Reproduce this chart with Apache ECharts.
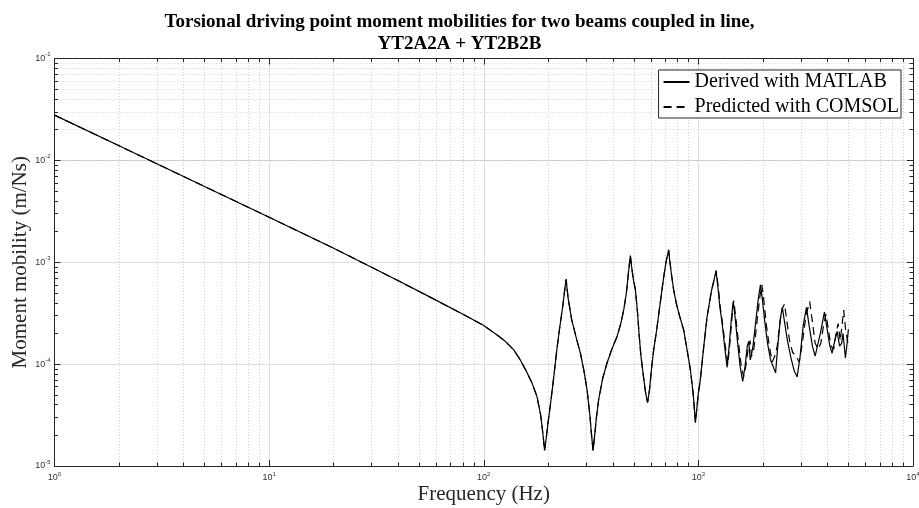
<!DOCTYPE html>
<html>
<head>
<meta charset="utf-8">
<script src="https://cdn.jsdelivr.net/npm/echarts@6/dist/echarts.min.js"></script>
<style>html,body{margin:0;padding:0;background:#fff;}#chart{width:919px;height:508px;}</style>
</head>
<body>
<div id="chart"></div>
<script>
// ---- Data ----
// Common part (both curves coincide up to ~1 kHz)
const freqShared = [1, 2, 5, 10, 20, 30, 40, 56, 80, 100, 115, 125, 138, 148, 158, 168, 177, 184, 189, 192, 195, 199, 204, 212, 219, 226, 233, 238, 242, 247, 257, 270, 282, 293, 303, 312, 318, 323, 328, 335, 343, 358, 375, 395, 418, 435, 449, 462, 472, 482, 490, 499, 509, 520, 530, 540, 555, 568, 580, 592, 605, 619, 640, 665, 685, 705, 727, 737, 750, 767, 790, 820, 854, 885, 918, 945, 969, 985, 1000, 1021];
const mobShared = [0.0278, 0.0139, 0.00555, 0.00277, 0.00137, 8.94e-4, 6.57e-4, 4.57e-4, 3.09e-4, 2.39e-4, 1.94e-4, 1.7e-4, 1.38e-4, 1.1e-4, 8.5e-5, 6.5e-5, 4.8e-5, 3.2e-5, 2.0e-5, 1.42e-5, 1.8e-5, 2.6e-5, 3.84e-5, 7.5e-5, 1.38e-4, 2.3e-4, 3.6e-4, 5.2e-4, 6.8e-4, 4.5e-4, 2.72e-4, 1.8e-4, 1.28e-4, 8.6e-5, 5.6e-5, 3.2e-5, 2.0e-5, 1.42e-5, 1.9e-5, 3.0e-5, 4.47e-5, 7.2e-5, 1.02e-4, 1.4e-4, 1.87e-4, 2.5e-4, 3.4e-4, 5.0e-4, 7.8e-4, 1.16e-3, 8.6e-4, 6.6e-4, 5.35e-4, 3.3e-4, 1.9e-4, 1.2e-4, 7.5e-5, 5.2e-5, 4.2e-5, 5.6e-5, 9.0e-5, 1.38e-4, 2.2e-4, 4.07e-4, 6.5e-4, 9.8e-4, 1.32e-3, 1.0e-3, 7.5e-4, 5.35e-4, 3.9e-4, 2.9e-4, 2.17e-4, 1.4e-4, 8.8e-5, 5.2e-5, 2.68e-5, 3.8e-5, 5.2e-5, 7.0e-5];

// Derived with MATLAB, above 1 kHz
const freqMatlabHi = [1060, 1098, 1150, 1209, 1235, 1260, 1290, 1325, 1361, 1395, 1425, 1452, 1480, 1520, 1565, 1609, 1650, 1690, 1716, 1745, 1770, 1800, 1850, 1900, 1946, 1980, 2040, 2100, 2170, 2230, 2290, 2350, 2410, 2460, 2520, 2600, 2700, 2800, 2885, 2980, 3080, 3188, 3280, 3400, 3500, 3575, 3700, 3868, 3980, 4100, 4198, 4320, 4430, 4550, 4650, 4720, 4842, 4930, 5000];
const mobMatlabHi = [1.5e-4, 2.93e-4, 5.2e-4, 8.2e-4, 5.5e-4, 3.6e-4, 2.52e-4, 1.5e-4, 9.3e-5, 1.6e-4, 2.8e-4, 4.1e-4, 3.0e-4, 1.7e-4, 9.5e-5, 6.75e-5, 9.5e-5, 1.5e-4, 1.67e-4, 1.1e-4, 1.25e-4, 1.55e-4, 2.6e-4, 4.3e-4, 6.0e-4, 4.6e-4, 2.6e-4, 1.6e-4, 1.1e-4, 9.5e-5, 8.2e-5, 1.6e-4, 2.8e-4, 3.6e-4, 2.6e-4, 1.7e-4, 1.15e-4, 8.5e-5, 7.5e-5, 1.2e-4, 2.4e-4, 3.6e-4, 2.4e-4, 1.5e-4, 1.2e-4, 1.15e-4, 2.0e-4, 3.25e-4, 2.2e-4, 1.5e-4, 1.28e-4, 1.7e-4, 2.1e-4, 1.5e-4, 1.6e-4, 2.0e-4, 1.15e-4, 1.6e-4, 2.2e-4];

// Predicted with COMSOL, above 1 kHz
const freqComsolHi = [1060, 1098, 1150, 1212, 1240, 1265, 1300, 1335, 1372, 1405, 1435, 1462, 1490, 1535, 1580, 1625, 1670, 1710, 1740, 1770, 1800, 1835, 1890, 1935, 1975, 2010, 2070, 2140, 2210, 2270, 2330, 2400, 2460, 2520, 2580, 2660, 2750, 2850, 2950, 3050, 3170, 3300, 3400, 3500, 3620, 3720, 3830, 3930, 4030, 4150, 4270, 4380, 4480, 4580, 4660, 4756, 4850, 5000];
const mobComsolHi = [1.5e-4, 2.9e-4, 5.2e-4, 8.3e-4, 5.5e-4, 3.6e-4, 2.4e-4, 1.5e-4, 1.0e-4, 1.7e-4, 2.9e-4, 4.2e-4, 3.0e-4, 1.7e-4, 1.0e-4, 7.5e-5, 1.0e-4, 1.5e-4, 1.7e-4, 1.2e-4, 1.3e-4, 1.7e-4, 3.0e-4, 4.6e-4, 6.0e-4, 4.6e-4, 2.5e-4, 1.5e-4, 1.05e-4, 1.2e-4, 1.5e-4, 2.6e-4, 3.5e-4, 3.9e-4, 2.7e-4, 1.7e-4, 1.3e-4, 1.2e-4, 1.05e-4, 1.6e-4, 3.0e-4, 4.1e-4, 2.6e-4, 1.6e-4, 1.4e-4, 1.6e-4, 2.4e-4, 3.1e-4, 2.2e-4, 1.5e-4, 1.4e-4, 2.0e-4, 2.5e-4, 1.7e-4, 2.3e-4, 3.4e-4, 2.2e-4, 1.5e-4];

const seriesNames = ['Derived with MATLAB', 'Predicted with COMSOL'];
const titleText = 'Torsional driving point moment mobilities for two beams coupled in line,\nYT2A2A + YT2B2B';
const xName = 'Frequency (Hz)';
const yName = 'Moment mobility (m/Ns)';
const xRange = [1, 10000];
const yRange = [1e-5, 1e-1];

// ---- Build ----
function pairs(f, v) { return f.map((x, i) => [x, v[i]]); }
const matlabData = pairs(freqShared.concat(freqMatlabHi), mobShared.concat(mobMatlabHi));
const comsolData = pairs(freqShared.concat(freqComsolHi), mobShared.concat(mobComsolHi));

function minorValues(lo, hi) {
  const out = [];
  for (let e = Math.round(Math.log10(lo)); e < Math.round(Math.log10(hi)); e++) {
    for (let m = 2; m <= 9; m++) out.push(parseFloat((m * Math.pow(10, e)).toPrecision(3)));
  }
  return out;
}
const xMinor = minorValues(xRange[0], xRange[1]);
const yMinor = minorValues(yRange[0], yRange[1]);

const AX = '#262626';
const richLabel = {
  b: { fontSize: 9, lineHeight: 14, fontFamily: 'Liberation Sans', color: '#333' },
  s: { fontSize: 6, lineHeight: 8, verticalAlign: 'top', fontFamily: 'Liberation Sans', color: '#333' }
};
function powLabel(v) {
  const e = Math.round(Math.log10(v));
  return '{b|10}{s|' + e + '}';
}

function makeX(pos, opts) {
  return Object.assign({
    type: 'log', logBase: 10, min: xRange[0], max: xRange[1], position: pos,
    axisLine: { show: false },
    axisTick: { show: false },
    axisLabel: { show: false },
    splitLine: { show: false },
    minorTick: { show: false },
    minorSplitLine: { show: false }
  }, opts);
}
function makeY(pos, opts) {
  return Object.assign({
    type: 'log', logBase: 10, min: yRange[0], max: yRange[1], position: pos,
    axisLine: { show: false },
    axisTick: { show: false },
    axisLabel: { show: false },
    splitLine: { show: false },
    minorTick: { show: false },
    minorSplitLine: { show: false }
  }, opts);
}

const xAxes = [
  makeX('bottom', {
    name: xName, nameLocation: 'middle', nameGap: 18, nameMoveOverlap: false,
    nameTextStyle: { fontFamily: 'Liberation Serif', fontSize: 21, color: AX },
    axisLine: { show: true, onZero: false, lineStyle: { color: AX, width: 1 } },
    axisTick: { show: true, inside: true, length: 6, lineStyle: { color: AX } },
    axisLabel: { show: true, formatter: powLabel, rich: richLabel, margin: 5 },
    splitLine: { show: true, lineStyle: { color: '#dedede', width: 1 } }
  }),
  makeX('bottom', { axisTick: { show: true, inside: true, length: 3.5, customValues: xMinor, lineStyle: { color: AX } } }),
  makeX('top', {
    axisLine: { show: true, onZero: false, lineStyle: { color: AX, width: 1 } },
    axisTick: { show: true, inside: true, length: 6, lineStyle: { color: AX } }
  }),
  makeX('top', { axisTick: { show: true, inside: true, length: 3.5, customValues: xMinor, lineStyle: { color: AX } } })
];
const yAxes = [
  makeY('left', {
    name: yName, nameLocation: 'middle', nameGap: 24, nameMoveOverlap: false,
    nameTextStyle: { fontFamily: 'Liberation Serif', fontSize: 21, color: AX },
    axisLine: { show: true, onZero: false, lineStyle: { color: AX, width: 1 } },
    axisTick: { show: true, inside: true, length: 6, lineStyle: { color: AX } },
    axisLabel: { show: true, formatter: powLabel, rich: richLabel, margin: 4 },
    splitLine: { show: true, lineStyle: { color: '#dedede', width: 1 } }
  }),
  makeY('left', { axisTick: { show: true, inside: true, length: 3.5, customValues: yMinor, lineStyle: { color: AX } } }),
  makeY('right', {
    axisLine: { show: true, onZero: false, lineStyle: { color: AX, width: 1 } },
    axisTick: { show: true, inside: true, length: 6, lineStyle: { color: AX } }
  }),
  makeY('right', { axisTick: { show: true, inside: true, length: 3.5, customValues: yMinor, lineStyle: { color: AX } } })
];

const minorGridLines = xMinor.map(v => ({ xAxis: v })).concat(yMinor.map(v => ({ yAxis: v })));

const option = {
  animation: false,
  backgroundColor: '#fff',
  title: {
    text: titleText, left: 'center', top: 6,
    textStyle: { fontFamily: 'Liberation Serif', fontWeight: 'bold', fontSize: 19, lineHeight: 22, color: '#000' }
  },
  grid: { left: 54.5, right: 6, top: 58.5, bottom: 42, containLabel: false, outerBoundsMode: 'none' },
  legend: {
    data: seriesNames, orient: 'vertical', right: 18, top: 70,
    backgroundColor: '#fff', borderColor: AX, borderWidth: 1, borderRadius: 0,
    padding: [2, 2, 1, 4], itemGap: 5, itemWidth: 26, itemHeight: 20,
    itemStyle: { opacity: 0 },
    textStyle: { fontFamily: 'Liberation Serif', fontSize: 20, color: '#000' }
  },
  xAxis: xAxes,
  yAxis: yAxes,
  series: [
    {
      name: seriesNames[0], type: 'line', xAxisIndex: 0, yAxisIndex: 0, data: matlabData,
      showSymbol: false, symbol: 'none', z: 3,
      lineStyle: { color: '#000', width: 1.2, type: 'solid' }, itemStyle: { color: '#000' },
      markLine: {
        silent: true, symbol: ['none', 'none'], label: { show: false }, animation: false,
        lineStyle: { color: '#c4c4c4', width: 0.8, type: [1, 2] },
        data: minorGridLines, z: 0
      }
    },
    {
      name: seriesNames[1], type: 'line', xAxisIndex: 0, yAxisIndex: 0, data: comsolData,
      showSymbol: false, symbol: 'none', z: 4,
      lineStyle: { color: '#000', width: 1.2, type: [8, 5] }, itemStyle: { color: '#000' }
    }
  ]
};
const chart = echarts.init(document.getElementById('chart'), null, { renderer: 'canvas' });
chart.setOption(option);
</script>
</body>
</html>
